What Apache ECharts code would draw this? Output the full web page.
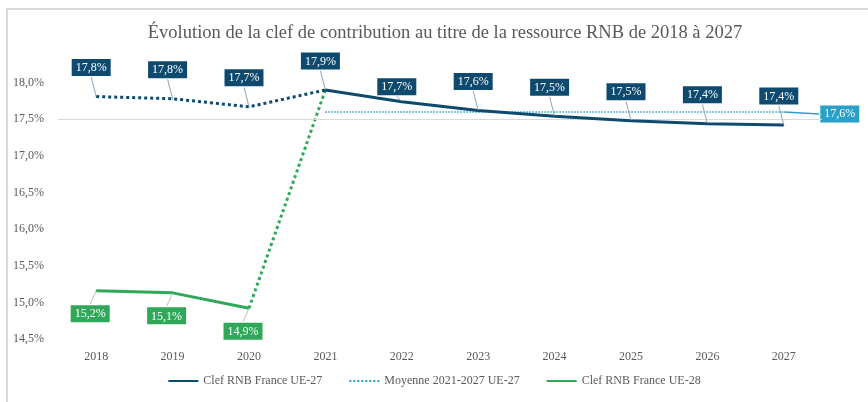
<!DOCTYPE html>
<html>
<head>
<meta charset="utf-8">
<script src="https://cdn.jsdelivr.net/npm/echarts@6/dist/echarts.min.js"></script>
<style>
  html, body { margin: 0; padding: 0; background: #fff; }
  #chart { width: 868px; height: 402px; }
</style>
</head>
<body>
<div id="chart"></div>
<script>
const years = ['2018', '2019', '2020', '2021', '2022', '2023', '2024', '2025', '2026', '2027']
const ue27 = [null, null, null, 17.9, 17.74, 17.62, 17.54, 17.48, 17.44, 17.42]
const ue27Before = [17.81, 17.78, 17.67, 17.9, null, null, null, null, null, null]
const avg2127 = [null, null, null, 17.6, 17.6, 17.6, 17.6, 17.6, 17.6, 17.6]
const ue28 = [15.16, 15.13, 14.92, null, null, null, null, null, null, null]
const ue28Link = [null, null, 14.92, 17.9, null, null, null, null, null, null]

const NAVY = '#0d4a6e'
const GREEN = '#2fa85a'
const LIGHT = '#2aa0c8'
const GREY = '#595959'
const SERIF = '"Liberation Serif", "DejaVu Serif", serif'

const fmt = (v) => v.toFixed(1).replace('.', ',') + '%'

const boxLabel = (bg, pos) => ({
  show: true,
  position: pos,
  distance: 4,
  formatter: (p) => fmt(p.value),
  color: '#fff',
  fontFamily: SERIF,
  fontSize: 12,
  backgroundColor: bg,
  padding: [3, 4, 2, 4],
  borderColor: '#fff',
  borderWidth: 1
})

// only some points carry a label
const withLabels = (arr, keep) => arr.map((v, i) => (v === null ? null : { value: v, label: { show: keep(i) } }))

const chart = echarts.init(document.getElementById('chart'))
chart.setOption({
  backgroundColor: '#fff',
  animation: false,
  title: {
    text: 'Évolution de la clef de contribution au titre de la ressource RNB de 2018 à 2027',
    left: 440,
    textAlign: 'center',
    top: 19,
    textStyle: { fontFamily: SERIF, fontSize: 18.5, fontWeight: 'normal', color: GREY }
  },
  graphic: [
    { type: 'line', shape: { x1: 6, y1: 9, x2: 868, y2: 9 }, style: { stroke: '#d9d9d9', lineWidth: 2 } },
    { type: 'line', shape: { x1: 7, y1: 9, x2: 7, y2: 402 }, style: { stroke: '#d9d9d9', lineWidth: 2 } }
  ],
  grid: { left: 58, right: 46, top: 46, bottom: 63 },
  legend: {
    bottom: 10,
    left: 'center',
    itemWidth: 30,
    itemHeight: 10,
    itemGap: 26,
    itemStyle: { opacity: 0 },
    textStyle: { fontFamily: SERIF, fontSize: 12, color: GREY },
    data: ['Clef RNB France UE-27', 'Moyenne 2021-2027 UE-27', 'Clef RNB France UE-28']
  },
  xAxis: {
    type: 'category',
    data: years,
    boundaryGap: true,
    axisLine: { show: false },
    axisTick: { show: false },
    axisLabel: { fontFamily: SERIF, fontSize: 12, color: GREY, margin: 12 }
  },
  yAxis: {
    type: 'value',
    min: 14.5,
    max: 18.5,
    interval: 0.5,
    axisLine: { show: false },
    axisTick: { show: false },
    splitLine: { show: false },
    axisLabel: {
      fontFamily: SERIF, fontSize: 12, color: GREY, margin: 14,
      formatter: (v) => (v > 18.4 ? '' : fmt(v))
    }
  },
  series: [
    {
      name: 'Clef RNB France UE-27',
      type: 'line',
      data: ue27,
      symbol: 'circle',
      symbolSize: 1,
      showSymbol: true,
      z: 5,
      lineStyle: { color: NAVY, width: 3 },
      itemStyle: { color: NAVY },
      label: boxLabel(NAVY, 'top'),
      labelLayout: (p) => ({ dx: -5, dy: p.dataIndex === 4 ? -2 : -16 }),
      labelLine: { show: true, lineStyle: { color: '#8aa6ba', width: 1 } },
      markLine: {
        silent: true,
        symbol: 'none',
        label: { show: false },
        lineStyle: { color: '#d9d9d9', type: 'solid', width: 1 },
        data: [{ yAxis: 17.5 }]
      }
    },
    {
      name: 'UE-27 avant 2021',
      type: 'line',
      data: withLabels(ue27Before, (i) => i < 3),
      symbol: 'circle',
      symbolSize: 1,
      showSymbol: true,
      z: 5,
      lineStyle: { color: NAVY, width: 3, type: 'dotted' },
      itemStyle: { color: NAVY },
      label: boxLabel(NAVY, 'top'),
      labelLayout: () => ({ dx: -5, dy: -16 }),
      labelLine: { show: true, lineStyle: { color: '#8aa6ba', width: 1 } }
    },
    {
      name: 'Moyenne 2021-2027 UE-27',
      type: 'line',
      data: withLabels(avg2127, (i) => i === avg2127.length - 1),
      symbol: 'circle',
      symbolSize: 1,
      showSymbol: true,
      z: 3,
      lineStyle: { color: LIGHT, width: 1.5, type: 'dotted' },
      itemStyle: { color: LIGHT },
      label: Object.assign(boxLabel(LIGHT, 'right'), { distance: 5 }),
      labelLayout: () => ({ dx: 31, dy: 2 }),
      labelLine: { show: true, lineStyle: { color: LIGHT, width: 1.5 } }
    },
    {
      name: 'Clef RNB France UE-28',
      type: 'line',
      data: ue28,
      symbol: 'circle',
      symbolSize: 1,
      showSymbol: true,
      z: 4,
      lineStyle: { color: GREEN, width: 3 },
      itemStyle: { color: GREEN },
      label: boxLabel(GREEN, 'bottom'),
      labelLayout: () => ({ dx: -6, dy: 10 }),
      labelLine: { show: true, lineStyle: { color: '#bfbfbf', width: 1 } }
    },
    {
      name: 'UE-28 vers 2021',
      type: 'line',
      data: ue28Link,
      symbol: 'none',
      z: 4,
      lineStyle: { color: GREEN, width: 3, type: 'dotted' },
      itemStyle: { color: GREEN }
    }
  ]
})
</script>
</body>
</html>
